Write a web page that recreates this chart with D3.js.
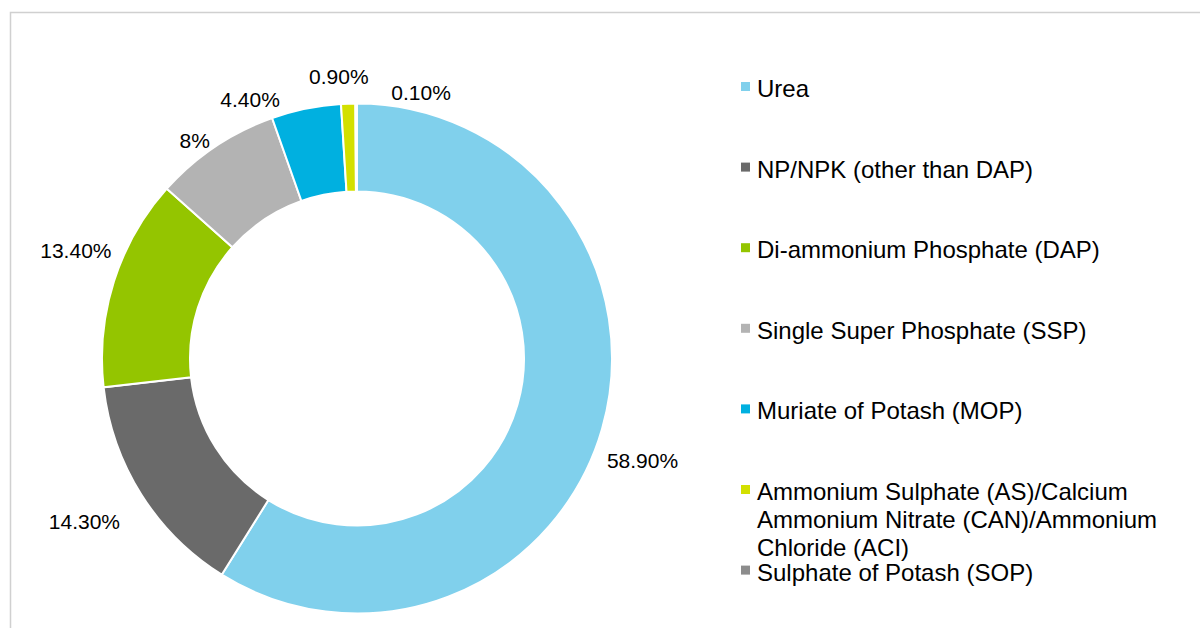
<!DOCTYPE html>
<html>
<head>
<meta charset="utf-8">
<script src="https://cdn.jsdelivr.net/npm/d3@7/dist/d3.min.js"></script>
<style>
  html, body { margin: 0; padding: 0; background: #fff; overflow: hidden; }
  svg { display: block; }
  text { font-family: "Liberation Sans", Arial, sans-serif; fill: #000; }
</style>
</head>
<body>
<svg id="chart" width="1200" height="628"></svg>
<script>
// ---- data ----
const categories = [
  "Urea",
  "NP/NPK (other than DAP)",
  "Di-ammonium Phosphate (DAP)",
  "Single Super Phosphate (SSP)",
  "Muriate of Potash (MOP)",
  "Ammonium Sulphate (AS)/Calcium Ammonium Nitrate (CAN)/Ammonium Chloride (ACI)",
  "Sulphate of Potash (SOP)"
];
const shares = [58.9, 14.3, 13.4, 8, 4.4, 0.9, 0.1];
const shareLabels = ["58.90%", "14.30%", "13.40%", "8%", "4.40%", "0.90%", "0.10%"];
const colors = ["#80d0ec", "#6a6a6a", "#94c500", "#b3b3b3", "#00b0e0", "#d3e000", "#8c8c8c"];

// ---- layout ----
const W = 1200, H = 628;
const cx = 357, cy = 358.5;
const outerR = 255, innerR = 167;
const labelR = 295;
// manual label nudges (px) from the arc-centroid position, like hand-placed labels
const labelNudge = [[2, 21], [-23, 6], [0, -19], [2, 27], [-48, 30], [-8, 13], [65, 29]];

const svg = d3.select("#chart");

// frame
svg.append("rect")
  .attr("x", 10.5).attr("y", 12.5)
  .attr("width", W + 20).attr("height", H + 20)
  .attr("fill", "none")
  .attr("stroke", "#d0d0d0")
  .attr("stroke-width", 1.5);

const data = categories.map((c, i) => ({ cat: c, value: shares[i], label: shareLabels[i], color: colors[i], i }));

const pie = d3.pie().sort(null).value(d => d.value).startAngle(0).endAngle(2 * Math.PI);
const arcs = pie(data);
const arc = d3.arc().innerRadius(innerR).outerRadius(outerR);
const labelArc = d3.arc().innerRadius(labelR).outerRadius(labelR);

const g = svg.append("g").attr("transform", `translate(${cx},${cy})`);

g.selectAll("path.slice")
  .data(arcs)
  .join("path")
  .attr("class", "slice")
  .attr("d", arc)
  .attr("fill", d => d.data.color)
  .attr("stroke", "#fff")
  .attr("stroke-width", 2)
  .attr("stroke-linejoin", "miter");

g.selectAll("text.lbl")
  .data(arcs)
  .join("text")
  .attr("class", "lbl")
  .attr("x", d => labelArc.centroid(d)[0] + labelNudge[d.data.i][0])
  .attr("y", d => labelArc.centroid(d)[1] + labelNudge[d.data.i][1])
  .attr("dy", "0.36em")
  .attr("text-anchor", "middle")
  .style("font-size", "21px")
  .text(d => d.data.label);

// ---- legend ----
const legendX = 741;
const textX = 757;
const ySlot = d3.scalePoint().domain(categories).range([97, 580.6]);
const legendFont = 24;
const lineH = 28;
const maxTextW = 410;

const leg = svg.append("g");
const items = leg.selectAll("g.item")
  .data(data)
  .join("g")
  .attr("class", "item")
  .attr("transform", d => `translate(0,${ySlot(d.cat)})`);

items.append("rect")
  .attr("x", legendX)
  .attr("y", -15)
  .attr("width", 9)
  .attr("height", 9)
  .attr("fill", d => d.color);

items.each(function(d) {
  const t = d3.select(this).append("text")
    .attr("x", textX).attr("y", 0)
    .style("font-size", legendFont + "px");
  const words = d.cat.split(" ");
  let line = [];
  let lineNo = 0;
  let tspan = t.append("tspan").attr("x", textX).attr("y", 0);
  words.forEach(w => {
    line.push(w);
    tspan.text(line.join(" "));
    if (tspan.node().getComputedTextLength() > maxTextW && line.length > 1) {
      line.pop();
      tspan.text(line.join(" "));
      line = [w];
      lineNo++;
      tspan = t.append("tspan").attr("x", textX).attr("y", lineNo * lineH).text(w);
    }
  });
});
</script>
</body>
</html>
